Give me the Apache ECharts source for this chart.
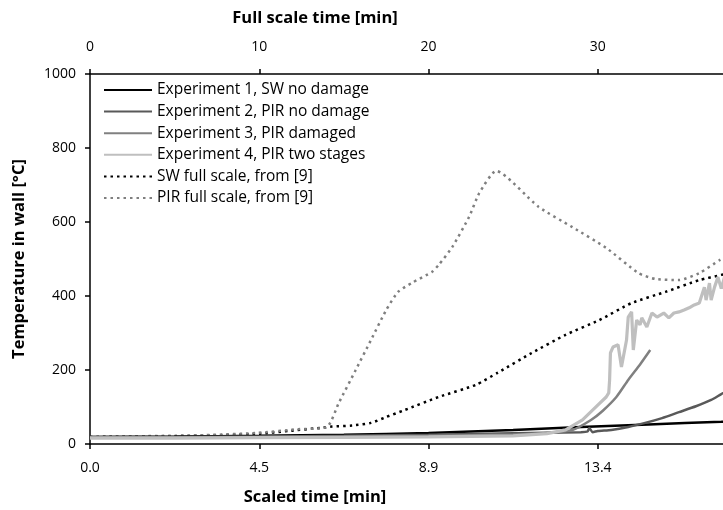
<!DOCTYPE html>
<html>
<head>
<meta charset="utf-8">
<script src="https://cdn.jsdelivr.net/npm/echarts@6/dist/echarts.min.js"></script>
<style>
html,body{margin:0;padding:0;background:#fff;}
#chart{width:723px;height:510px;}
</style>
</head>
<body>
<div id="chart"></div>
<script>
// Full-scale time ticks (top axis) and matching scaled-time labels (bottom axis)
var fullTicks = [0, 10, 20, 30];
var scaledTickLabels = ['0.0', '4.5', '8.9', '13.4'];
var yTicks = [0, 200, 400, 600, 800, 1000];
var visibleMaxTime = 37.4; // right edge of the cropped plot, full-scale minutes

var seriesNames = [
  'Experiment 1, SW no damage',
  'Experiment 2, PIR no damage',
  'Experiment 3, PIR damaged',
  'Experiment 4, PIR two stages',
  'SW full scale, from [9]',
  'PIR full scale, from [9]'
];

// Experiment 1
var exp1Time = [0, 5, 10, 15, 20, 25, 29, 33, 37.3, 38];
var exp1Temp = [19, 20, 22, 25, 30, 38, 46, 53, 60, 62];

// Experiment 2
var exp2Time = [0, 5, 10, 15, 20, 25, 29, 29.4, 29.5, 29.7, 30.0, 30.8, 31.8, 32.8, 33.8, 34.8, 35.8, 36.7, 37.3, 38];
var exp2Temp = [19, 19, 20, 22, 25, 29, 32, 34, 43, 32, 35, 38, 46, 57, 70, 86, 102, 119, 135, 152];

// Experiment 3
var exp3Time = [0, 5, 10, 15, 20, 25, 27, 28.5, 29.6, 30.3, 31.1, 31.8, 32.5, 33.1];
var exp3Temp = [18, 18, 19, 20, 22, 26, 30, 38, 65, 90, 127, 173, 215, 254];

// Experiment 4
var exp4Time = [0, 5, 10, 15, 20, 25, 27, 28.1, 29.1, 30, 30.5, 30.65, 30.7, 30.75, 30.9, 31.2, 31.4, 31.7, 31.8, 32.0, 32.1, 32.3, 32.5, 32.6, 32.9, 33.2, 33.5, 33.9, 34.2, 34.5, 34.8, 35.1, 35.4, 35.7, 36.0, 36.3, 36.4, 36.6, 36.7, 36.9, 37.1, 37.3, 37.6];
var exp4Temp = [16, 16, 17, 18, 19, 22, 28, 38, 65, 105, 127, 138, 173, 246, 262, 268, 208, 281, 343, 357, 254, 335, 322, 341, 316, 354, 343, 354, 341, 354, 357, 362, 368, 376, 381, 424, 389, 435, 389, 424, 451, 420, 470];

// SW full scale, from [9]
var swTime = [0, 5, 7.8, 10, 11.7, 13.7, 14.3, 15.5, 16.6, 17.5, 18.6, 20.6, 22.8, 24.1, 26.1, 28.1, 30.1, 32.0, 34.0, 36.0, 37.3, 38.0];
var swTemp = [19, 21, 24, 28, 35, 44, 47, 50, 57, 73, 92, 127, 160, 193, 246, 295, 335, 381, 411, 443, 457, 466];

// PIR full scale, from [9]
var pirTime = [0, 6.8, 9.9, 12.3, 14.0, 14.7, 15.7, 16.6, 17.5, 18.2, 19.0, 20.2, 20.6, 21.4, 22.4, 23.0, 24.0, 26.5, 28.5, 30.5, 32.4, 33.4, 34.8, 36.0, 37.2, 38.0];
var pirTemp = [19, 24, 30, 40, 46, 111, 200, 281, 362, 411, 435, 465, 484, 532, 614, 678, 738, 641, 586, 530, 462, 446, 443, 462, 497, 520];

function pairs(t, v) { return t.map(function (x, i) { return [x, v[i]]; }); }

var FONT = '"Open Sans", sans-serif';
var chart = echarts.init(document.getElementById('chart'), null, {renderer: 'canvas'});

function lineSeries(name, t, v, color, width, type, smooth, z) {
  return {
    name: name, type: 'line', data: pairs(t, v), xAxisIndex: 0, yAxisIndex: 0,
    showSymbol: false, symbol: 'none', smooth: smooth, z: z,
    lineStyle: {color: color, width: width, type: type, cap: 'butt'},
    itemStyle: {color: color},
    emphasis: {disabled: true}, animation: false
  };
}

var axisLineStyle = {show: true, lineStyle: {color: '#000', width: 1.5}};
var tickStyle = {show: true, inside: false, length: 5, lineStyle: {color: '#000', width: 1.5}};
function tickOnly(list, labels) {
  return function (v) {
    for (var i = 0; i < list.length; i++) { if (Math.abs(list[i] - v) < 1e-6) return labels[i]; }
    return '';
  };
}

var option = {
  animation: false,
  backgroundColor: '#fff',
  grid: {left: 90, top: 74, bottom: 66, right: 0, containLabel: false},
  legend: {
    orient: 'vertical', left: 98, top: 77,
    itemWidth: 48, itemHeight: 14, itemGap: 5.6,
    data: seriesNames,
    itemStyle: {opacity: 0},
    textStyle: {fontFamily: FONT, fontSize: 15.5, color: '#000'},
    selectedMode: false
  },
  xAxis: [
    {
      type: 'value', position: 'bottom', min: 0, max: visibleMaxTime, interval: 10,
      axisLine: axisLineStyle, axisTick: tickStyle, splitLine: {show: false},
      axisLabel: {
        margin: 17, color: '#000', fontFamily: FONT, fontSize: 14,
        showMaxLabel: false,
        formatter: tickOnly(fullTicks, scaledTickLabels)
      }
    },
    {
      type: 'value', position: 'top', min: 0, max: visibleMaxTime, interval: 10,
      axisLine: axisLineStyle, axisTick: tickStyle, splitLine: {show: false},
      axisLabel: {
        margin: 20, color: '#000', fontFamily: FONT, fontSize: 14,
        showMaxLabel: false,
        formatter: tickOnly(fullTicks, fullTicks.map(String))
      }
    }
  ],
  yAxis: {
    type: 'value', min: yTicks[0], max: yTicks[yTicks.length - 1], interval: 200,
    axisLine: axisLineStyle, axisTick: tickStyle, splitLine: {show: false},
    axisLabel: {margin: 14, color: '#000', fontFamily: FONT, fontSize: 14,
      formatter: tickOnly(yTicks, yTicks.map(String))},
    name: 'Temperature in wall [°C]', nameLocation: 'middle', nameGap: 62, nameRotate: 90,
    nameTextStyle: {fontFamily: FONT, fontSize: 16.5, fontWeight: 'bold', color: '#000'}
  },
  graphic: [
    {type: 'text', x: 315, y: 18, style: {text: 'Full scale time [min]', font: 'bold 16.5px "Open Sans", sans-serif', fill: '#000', align: 'center', verticalAlign: 'middle'}},
    {type: 'text', x: 315, y: 497, style: {text: 'Scaled time [min]', font: 'bold 16.5px "Open Sans", sans-serif', fill: '#000', align: 'center', verticalAlign: 'middle'}}
  ],
  series: [
    lineSeries(seriesNames[4], swTime, swTemp, '#000000', 2.5, [2.5, 4], 0.2, 2),
    lineSeries(seriesNames[5], pirTime, pirTemp, '#7f7f7f', 2.5, [2.5, 4], 0.2, 2),
    lineSeries(seriesNames[0], exp1Time, exp1Temp, '#000000', 2.5, 'solid', 0.3, 3),
    lineSeries(seriesNames[1], exp2Time, exp2Temp, '#595959', 2.5, 'solid', 0.2, 3),
    lineSeries(seriesNames[2], exp3Time, exp3Temp, '#808080', 2.5, 'solid', 0.2, 3),
    lineSeries(seriesNames[3], exp4Time, exp4Temp, '#bfbfbf', 3.2, 'solid', false, 4)
  ]
};
chart.setOption(option);
</script>
</body>
</html>
